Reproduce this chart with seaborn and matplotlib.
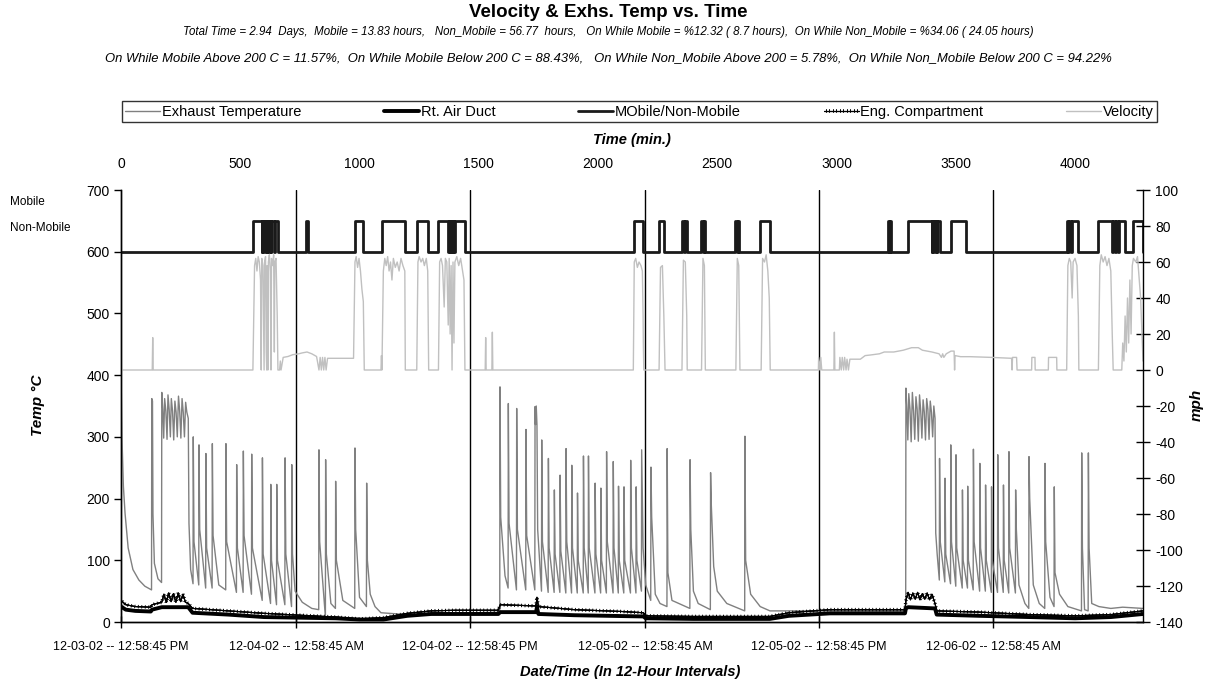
import numpy as np
import pandas as pd
import seaborn as sns
import matplotlib.pyplot as plt
from matplotlib import patheffects as pe
from matplotlib.lines import Line2D

sns.set_style("white")
plt.rcParams["font.family"] = ["Liberation Sans", "DejaVu Sans"]
plt.rcParams["axes.unicode_minus"] = False
plt.rcParams["text.color"] = "black"
plt.rcParams["xtick.color"] = "black"
plt.rcParams["ytick.color"] = "black"

# ---- data (time in minutes) ----
t_max = 4285
grid_t = [0, 734, 1463, 2197, 2927, 3656]
date_labels = ["12-03-02 -- 12:58:45 PM", "12-04-02 -- 12:58:45 AM", "12-04-02 -- 12:58:45 PM",
               "12-05-02 -- 12:58:45 AM", "12-05-02 -- 12:58:45 PM", "12-06-02 -- 12:58:45 AM"]
top_ticks = [0, 500, 1000, 1500, 2000, 2500, 3000, 3500, 4000]

# mobile periods (start, end)
mobile_on = [555, 592, 602, 613, 620, 631, 645, 776, 981, 1093, 1240, 1331, 1374, 1383, 1391, 1399,
             2150, 2257, 2354, 2364, 2432, 2443, 2574, 2585, 2679, 3215, 3223, 3298, 3402, 3413, 3423,
             3480, 3965, 3975, 3988, 4098, 4161, 4172, 4183, 4244]
mobile_off = [590, 600, 611, 618, 629, 643, 657, 784, 1016, 1191, 1289, 1372, 1380, 1388, 1396, 1442,
              2190, 2278, 2362, 2372, 2440, 2449, 2582, 2591, 2721, 3220, 3229, 3399, 3410, 3420, 3434,
              3542, 3972, 3985, 4014, 4154, 4168, 4180, 4210, 4285]

vel_t = [0, 131, 133, 135,
         553, 560, 565, 570, 575, 580, 585, 588, 590, 595, 598, 600, 602, 606, 609, 611, 613, 616, 618, 622,
         626, 629, 631, 636, 640, 643, 645, 650, 655, 658,
         665, 668, 671, 675, 680, 700, 720, 745, 760, 780, 800, 820, 830, 835, 840, 845, 850, 855, 860, 866, 975,
         981, 986, 992, 998, 1004, 1010, 1016, 1020,
         1090, 1092, 1094, 1100, 1106, 1112, 1118, 1124, 1130, 1136, 1142, 1150, 1158, 1166, 1174, 1182, 1190, 1192,
         1240, 1245, 1250, 1258, 1265, 1272, 1280, 1286, 1290,
         1331, 1336, 1342, 1348, 1355, 1360, 1366, 1372, 1376, 1380, 1384, 1388, 1392, 1396, 1400, 1408, 1416,
         1424, 1432, 1438, 1442,
         1527, 1529, 1531, 1555, 1557, 1559,
         2148, 2152, 2158, 2165, 2172, 2180, 2186, 2189, 2190, 2192,
         2256, 2262, 2270, 2276, 2281,
         2352, 2358, 2366, 2372, 2374,
         2434, 2440, 2446, 2450,
         2578, 2584, 2590, 2595,
         2684, 2690, 2698, 2705, 2712, 2718, 2722,
         2924, 2925, 2930, 2934, 2938, 2989, 2991, 2993,
         3012, 3014, 3020, 3024, 3030, 3034, 3040, 3044, 3050, 3056, 3100, 3120, 3140, 3180, 3200, 3240, 3280,
         3315, 3343, 3360, 3400, 3430, 3440, 3445, 3450, 3460, 3480, 3493, 3495, 3497, 3520, 3560, 3650, 3734,
         3736, 3738, 3755, 3757, 3818, 3819, 3832, 3833, 3888, 3889, 3923, 3924,
         3965, 3970, 3976, 3982, 3988, 3992, 4000, 4008, 4014, 4016,
         4098, 4104, 4110, 4118, 4126, 4134, 4142, 4150, 4156, 4160,
         4196, 4200, 4205, 4210, 4215, 4220, 4225, 4230, 4235, 4240, 4245, 4255, 4262, 4275, 4285]
vel_v = [0, 0, 18, 0,
         0, 58, 62, 55, 63, 60, 50, 0, 62, 58, 20, 0, 60, 63, 10, 0, 58, 0, 60, 64,
         55, 0, 62, 58, 64, 10, 60, 62, 30, 0,
         0, 5, 0, 3, 7, 7.5, 8.5, 9, 9.5, 10, 9, 7.5, 0, 7, 0, 7, 0, 7, 0, 6.5, 6.5,
         60, 63, 57, 62, 55, 45, 38, 0,
         0, 8, 0, 55, 62, 58, 63, 55, 60, 50, 62, 57, 60, 55, 62, 58, 55, 0,
         0, 60, 63, 60, 62, 58, 62, 55, 0,
         0, 60, 62, 58, 35, 62, 60, 25, 62, 20, 58, 0, 60, 15, 60, 63, 58,
         62, 55, 50, 0,
         0, 18, 0, 0, 21, 0,
         0, 60, 62, 57, 60, 58, 55, 30, 15, 0,
         0, 57, 58, 30, 0,
         0, 61, 60, 30, 0,
         0, 62, 58, 0,
         0, 62, 58, 0,
         0, 62, 60, 64, 55, 40, 0,
         0, 7, 0, 7, 0, 0, 21, 0,
         0, 7, 0, 7, 0, 7, 0, 6, 0, 6, 6, 8, 8.3, 9, 10, 10, 11,
         12.4, 12.4, 11, 10, 9, 7, 9, 7, 9, 10.5, 10.5, 0, 8, 7.4, 7.4, 7, 6.5,
         0, 7, 7, 0, 0, 7, 7, 0, 0, 7, 7, 0,
         0, 58, 62, 60, 40, 60, 62, 58, 30, 0,
         0, 58, 64, 60, 63, 58, 62, 55, 20, 0,
         0, 15, 5, 30, 10, 40, 15, 50, 20, 58, 62, 60, 63, 40, 5]

exh_t = [0, 1, 4, 10, 17, 30, 50, 75, 100, 128,
         129, 132, 134, 140, 155, 170,
         171, 175, 179, 183, 188, 193, 197, 202, 207, 211, 216, 221, 226, 231, 236, 241, 246, 251, 256, 261,
         266, 271, 276, 282, 285, 292, 302,
         303, 306, 326, 327, 330, 355, 356, 359, 382, 383, 386, 410, 439, 440, 443, 484, 485, 488, 512,
         513, 516, 547, 548, 551, 592, 593, 596, 627, 628, 631, 652, 653, 656, 687, 688, 691, 715,
         716, 719, 730, 760, 800, 829, 830, 833, 857, 858, 861, 880, 899, 900, 903, 930, 980,
         981, 984, 1000, 1029, 1030, 1033, 1045, 1065, 1090, 1200, 1400, 1588,
         1589, 1592, 1610, 1623, 1624, 1627, 1658, 1659, 1662, 1697, 1698, 1701, 1735,
         1736, 1738, 1741, 1744, 1747, 1763, 1764, 1767, 1791, 1792, 1795, 1816, 1817, 1820, 1840,
         1841, 1844, 1865, 1866, 1869, 1889, 1890, 1893, 1913, 1914, 1917, 1938, 1939, 1942, 1959,
         1960, 1963, 1987, 1988, 1991, 2011, 2012, 2015, 2035, 2036, 2039, 2063, 2064, 2067, 2085,
         2086, 2089, 2108, 2109, 2112, 2136, 2137, 2140, 2159, 2160, 2163, 2182,
         2183, 2186, 2189, 2200, 2221,
         2222, 2225, 2240, 2260, 2289, 2290, 2293, 2310, 2385, 2386, 2389, 2400, 2420, 2471,
         2472, 2475, 2485, 2500, 2540, 2615, 2616, 2619, 2640, 2680, 2721, 3000, 3290,
         3291, 3295, 3299, 3303, 3308, 3313, 3318, 3323, 3328, 3333, 3338, 3343, 3348, 3353, 3358, 3363,
         3368, 3373, 3378, 3383, 3388, 3393, 3398, 3403, 3408, 3413, 3416, 3422, 3431,
         3432, 3435, 3454, 3455, 3458, 3478, 3479, 3482, 3500, 3501, 3504, 3527, 3528, 3531, 3549,
         3550, 3553, 3573, 3574, 3577, 3600, 3601, 3604, 3624, 3625, 3628, 3649, 3650, 3653, 3675,
         3676, 3679, 3699, 3700, 3703, 3722, 3723, 3726, 3750,
         3751, 3754, 3765, 3790, 3806, 3807, 3810, 3825, 3850, 3873, 3874, 3877, 3895, 3912,
         3913, 3916, 3935, 3970, 4027, 4028, 4031, 4040, 4055, 4056, 4059, 4070, 4100, 4150, 4200, 4285]
exh_T = [210, 381, 300, 220, 176, 120, 85, 68, 58, 52,
         362, 358, 175, 95, 70, 64,
         372, 345, 298, 362, 342, 296, 368, 344, 300, 362, 342, 295, 358, 340, 300, 366, 342, 298, 362, 340,
         300, 356, 340, 330, 160, 85, 62,
         300, 130, 60, 287, 150, 55, 273, 120, 55, 289, 140, 60, 52, 289, 130, 48, 255, 120, 48,
         277, 140, 45, 272, 120, 35, 266, 110, 30, 223, 100, 28, 223, 100, 28, 266, 110, 25,
         255, 110, 50, 32, 22, 20, 279, 130, 8, 263, 110, 30, 22, 228, 100, 35, 22,
         282, 150, 40, 25, 225, 100, 45, 25, 15, 12, 14, 16,
         381, 170, 75, 55, 354, 160, 52, 346, 150, 52, 312, 140, 52,
         349, 320, 350, 320, 150, 50, 295, 130, 48, 265, 120, 48, 214, 110, 48,
         238, 115, 47, 281, 130, 47, 254, 120, 47, 209, 100, 47, 269, 120, 47,
         269, 120, 47, 225, 110, 47, 217, 100, 47, 276, 130, 47, 260, 120, 47,
         220, 100, 47, 219, 100, 47, 262, 120, 47, 219, 100, 50,
         279, 200, 120, 60, 35,
         251, 170, 45, 30, 25, 281, 80, 35, 22, 263, 150, 50, 30, 20,
         242, 190, 90, 50, 30, 18, 301, 100, 45, 25, 18, 18, 18,
         379, 345, 295, 370, 345, 292, 372, 342, 296, 365, 345, 293, 368, 342, 298, 360,
         340, 295, 362, 345, 296, 358, 340, 300, 350, 330, 144, 110, 68,
         265, 130, 65, 233, 110, 62, 287, 130, 58, 271, 120, 55, 214, 100, 55,
         220, 100, 52, 280, 130, 50, 257, 120, 50, 222, 100, 48, 219, 100, 48,
         271, 120, 48, 222, 100, 47, 276, 120, 47,
         214, 150, 60, 30, 22, 268, 200, 60, 30, 22, 257, 130, 40, 25,
         219, 80, 45, 25, 18, 274, 120, 20, 18, 274, 120, 30, 25, 22, 24, 22]

duct_t = [0, 20, 60, 125, 130, 171, 282, 300, 450, 600, 750, 900, 1000, 1100, 1200, 1300, 1400,
          1582, 1590, 1740, 1744, 1750, 1900, 2190, 2200, 2400, 2720, 2800, 2973, 3287, 3291, 3300,
          3413, 3420, 3600, 3811, 4000, 4150, 4285]
duct_T = [25, 20, 18, 17, 20, 24, 24, 15, 12, 8, 7, 6, 4, 4, 10, 13, 13,
          13, 16, 16, 24, 13, 11, 9, 6, 5, 5, 10, 14, 14, 22, 24,
          22, 12, 10, 8, 6, 8, 13]

eng_t = [0, 20, 60, 125, 130, 171, 180, 190, 200, 210, 220, 230, 240, 250, 260, 270, 282, 300, 450,
         600, 750, 900, 1000, 1100, 1200, 1300, 1400, 1582, 1590, 1740, 1744, 1750, 1900, 2100, 2190,
         2200, 2400, 2720, 2800, 2973, 3287, 3291, 3300, 3310, 3320, 3330, 3340, 3350, 3360, 3370,
         3380, 3390, 3400, 3413, 3420, 3600, 3811, 4000, 4150, 4285]
eng_T = [35, 28, 25, 24, 28, 32, 45, 32, 47, 33, 46, 32, 47, 33, 45, 32, 30, 22, 18,
         14, 11, 8, 5, 7, 14, 18, 19, 19, 28, 26, 40, 25, 20, 17, 15,
         10, 9, 9, 15, 20, 20, 35, 48, 36, 47, 37, 48, 36, 46, 37,
         47, 36, 45, 30, 18, 16, 12, 10, 12, 18]

# step series for Mobile / Non-Mobile
mob_t, mob_v = [0], [600]
for a, b in zip(mobile_on, mobile_off):
    mob_t += [a, a, b, b]
    mob_v += [600, 650, 650, 600]
mob_t.append(t_max)
mob_v.append(600)

# ---- figure ----
fig = plt.figure(figsize=(12.17, 6.87), dpi=100)
ax = fig.add_axes([121 / 1217, 1 - 622 / 687, (1143 - 121) / 1217, 432 / 687])
ax2 = ax.twinx()

ticked = [pe.Normal(),
          pe.withTickedStroke(spacing=2.5, angle=90, length=0.4, linewidth=0.7),
          pe.withTickedStroke(spacing=2.5, angle=-90, length=0.4, linewidth=0.7)]

for g in grid_t[1:]:
    ax.axvline(g, color="black", lw=1, zorder=1)

sns.lineplot(x=exh_t, y=exh_T, ax=ax, color="#808080", lw=1, sort=False, estimator=None, zorder=3)
sns.lineplot(x=eng_t, y=eng_T, ax=ax, color="black", lw=0.8, sort=False, estimator=None, zorder=4,
             path_effects=ticked)
sns.lineplot(x=duct_t, y=duct_T, ax=ax, color="black", lw=2.8, sort=False, estimator=None, zorder=4)
sns.lineplot(x=mob_t, y=mob_v, ax=ax, color="#1a1a1a", lw=2, sort=False, estimator=None, zorder=5)
sns.lineplot(x=vel_t, y=vel_v, ax=ax2, color="#c0c0c0", lw=1, sort=False, estimator=None)

ax.set_xlim(0, t_max)
ax.set_ylim(0, 700)
ax2.set_ylim(-140, 100)
ax.set_yticks(range(0, 701, 100))
ax2.set_yticks(range(-140, 101, 20))
ax.set_xticks(grid_t)
ax.set_xticklabels(date_labels, fontsize=9)
ax.tick_params(axis="y", labelsize=10, direction="out", length=5, width=1, left=True, pad=3)
ax.tick_params(axis="x", direction="inout", length=8, width=1, bottom=True, pad=10)
ax2.tick_params(axis="y", labelsize=10, direction="inout", length=10, width=1, right=True, pad=4)
ax.set_xlabel("")
ax.set_ylabel("")
ax2.set_ylabel("")

for a in (ax, ax2):
    a.spines["top"].set_visible(False)
    for s in ("left", "right", "bottom"):
        a.spines[s].set_color("black")
        a.spines[s].set_linewidth(1)
ax.spines["right"].set_visible(False)

top = ax.secondary_xaxis("top")
top.set_xticks(top_ticks)
top.tick_params(labelsize=10, length=0, pad=14)
top.spines["top"].set_visible(False)

fig.text(0.5, 0.982, "Velocity & Exhs. Temp vs. Time", ha="center", va="center", fontsize=13.5, fontweight="bold")
fig.text(0.5, 0.953, "Total Time = 2.94  Days,  Mobile = 13.83 hours,   Non_Mobile = 56.77  hours,   "
         "On While Mobile = %12.32 ( 8.7 hours),  On While Non_Mobile = %34.06 ( 24.05 hours)",
         ha="center", va="center", fontsize=8.3, style="italic")
fig.text(0.5, 0.9156, "On While Mobile Above 200 C = 11.57%,  On While Mobile Below 200 C = 88.43%,   "
         "On While Non_Mobile Above 200 = 5.78%,  On While Non_Mobile Below 200 C = 94.22%",
         ha="center", va="center", fontsize=9.4, style="italic")

fig.text(0.519, 0.796, "Time (min.)", ha="center", va="center", fontsize=10.5, fontweight="bold", style="italic")
fig.text(0.518, 0.022, "Date/Time (In 12-Hour Intervals)", ha="center", va="center", fontsize=10.5,
         fontweight="bold", style="italic")
fig.text(0.031, 0.41, "Temp \u00b0C", ha="center", va="center", rotation=90, fontsize=11,
         fontweight="bold", style="italic")
fig.text(0.983, 0.41, "mph", ha="center", va="center", rotation=90, fontsize=11,
         fontweight="bold", style="italic")
fig.text(0.008, 0.706, "Mobile", ha="left", va="center", fontsize=8.5)
fig.text(0.008, 0.668, "Non-Mobile", ha="left", va="center", fontsize=8.5)

handles = [Line2D([], [], color="#808080", lw=1),
           Line2D([], [], color="black", lw=2.8),
           Line2D([], [], color="#1a1a1a", lw=2),
           Line2D([], [], color="black", lw=0.8, path_effects=ticked),
           Line2D([], [], color="#c0c0c0", lw=1)]
labels = ["Exhaust Temperature", "Rt. Air Duct", "MObile/Non-Mobile", "Eng. Compartment", "Velocity"]
leg = fig.legend(handles, labels, loc="lower left", bbox_to_anchor=(0.1, 0.822, 0.851, 0.037),
                 mode="expand", ncol=5, frameon=True, fancybox=False, edgecolor="black",
                 handlelength=2.4, handletextpad=0.1, borderaxespad=0, borderpad=0.25, fontsize=10.5)
leg.get_frame().set_linewidth(1)

fig.savefig("out.png", dpi=100)
